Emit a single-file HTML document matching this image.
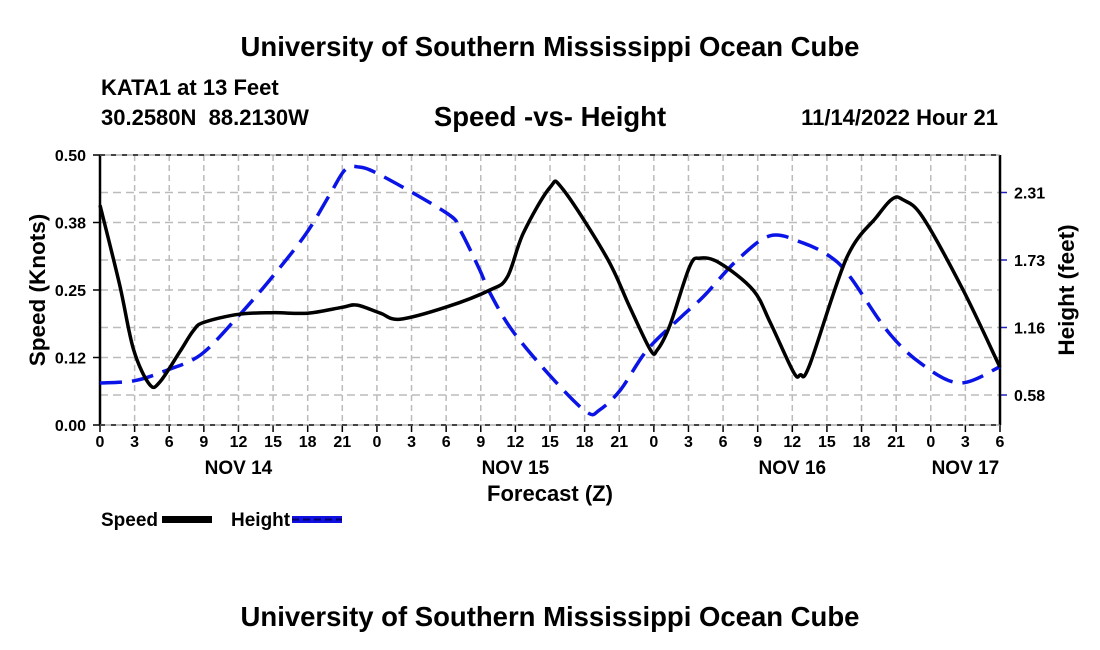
<!DOCTYPE html>
<html><head><meta charset="utf-8">
<style>
body{margin:0;background:#fff;}
svg{display:block;font-family:"Liberation Sans",Arial,sans-serif;font-weight:bold;}
</style></head>
<body>
<svg id="chart" width="1100" height="650" viewBox="0 0 1100 650">
<text x="550" y="56" font-size="27.5" text-anchor="middle">University of Southern Mississippi Ocean Cube</text>
<text x="101" y="95" font-size="22">KATA1 at 13 Feet</text>
<text x="101" y="125" font-size="22" xml:space="preserve">30.2580N  88.2130W</text>
<text x="550" y="126" font-size="27.5" text-anchor="middle">Speed -vs- Height</text>
<text x="998" y="125" font-size="22" text-anchor="end">11/14/2022 Hour 21</text>
<g id="grid"></g>
<g id="axes"></g>
<g id="series"></g>
<text transform="translate(45,290) rotate(-90)" font-size="22.5" text-anchor="middle">Speed (Knots)</text>
<text transform="translate(1074,290) rotate(-90)" font-size="22.5" text-anchor="middle">Height (feet)</text>
<text x="550" y="501" font-size="22" text-anchor="middle">Forecast (Z)</text>
<g>
<text x="101" y="526" font-size="19">Speed</text>
<rect x="162" y="516" width="50" height="7" fill="#000"/>
<text x="231" y="526" font-size="19">Height</text>
<rect x="292" y="516" width="50" height="7" fill="#1010e0"/>
<line x1="292" y1="519.5" x2="342" y2="519.5" stroke="#000070" stroke-width="2" stroke-dasharray="7,4"/>
</g>
<text x="550" y="626" font-size="27.5" text-anchor="middle">University of Southern Mississippi Ocean Cube</text>
</svg>
<script>
const xTickLabels=["0","3","6","9","12","15","18","21","0","3","6","9","12","15","18","21","0","3","6","9","12","15","18","21","0","3","6"];
const dayLabels=["NOV 14","NOV 15","NOV 16","NOV 17"];
const dayLabelHours=[12,36,60,75];
const leftTicks=[0,0.125,0.25,0.375,0.5];
const leftTickLabels=["0.00","0.12","0.25","0.38","0.50"];
const rightTicks=[0.5775,1.155,1.7325,2.31];
const rightTickLabels=["0.58","1.16","1.73","2.31"];
const speedHours=[0,1.7,2.9,4.3,5.2,6.9,8.1,9,12,15,18,21,22.3,24.3,26,30.1,33.8,35.3,36.7,39,40.1,43.9,45.9,47.7,48.3,49.4,51.1,52,53.7,56.6,58.1,60.1,60.7,61.5,64.7,67.3,68.7,69.6,71.3,74.8,78];
const speedValues=[0.407,0.26,0.14,0.075,0.08,0.135,0.175,0.19,0.205,0.208,0.207,0.218,0.222,0.207,0.196,0.219,0.25,0.274,0.356,0.44,0.437,0.311,0.219,0.139,0.139,0.185,0.293,0.309,0.3,0.25,0.189,0.098,0.093,0.111,0.309,0.385,0.419,0.417,0.385,0.25,0.107];
const heightHours=[0,3,5.8,8.7,11.7,14.7,17.8,19.9,21.2,22.3,24.3,30.1,31.2,32.9,33.8,35.8,39.3,42.2,43.3,45.1,47.4,50.3,52.3,55.2,58.1,60.9,63.3,65,68.2,71.1,74.5,78];
const heightValues=[0.68,0.70,0.79,0.92,1.22,1.56,1.95,2.29,2.50,2.53,2.46,2.13,1.99,1.65,1.45,1.12,0.71,0.43,0.45,0.62,0.96,1.24,1.42,1.73,1.94,1.88,1.76,1.59,1.13,0.85,0.68,0.82];

const NS="http://www.w3.org/2000/svg";
const X0=100,X1=1000,Y0=155,Y1=425,HMAX=78;
const xs=h=>X0+(h/HMAX)*(X1-X0);
const ySpeed=v=>Y1-(v/0.5)*(Y1-Y0);
const yHeight=h=>395-(h-0.5775)*67.5/0.5775;
function mk(tag,attrs,parent){const e=document.createElementNS(NS,tag);for(const k in attrs)e.setAttribute(k,attrs[k]);parent.appendChild(e);return e;}
const grid=document.getElementById('grid'),axes=document.getElementById('axes'),series=document.getElementById('series');

xTickLabels.forEach((lab,i)=>{
  const x=xs(i*3);
  if(i>0&&i<xTickLabels.length-1){const g=mk('line',{x1:x,y1:Y0,x2:x,y2:Y1,stroke:'#bbb','stroke-width':1.5,'stroke-dasharray':'6,4'},grid);
  
  }
  const t=mk('line',{x1:x,y1:Y1,x2:x,y2:Y1+7,stroke:'#000','stroke-width':1.5},axes);
  
  
  const tx=mk('text',{x:x,y:447,'font-size':16,'text-anchor':'middle'},axes);tx.textContent=lab;
  
  
});
dayLabels.forEach((lab,i)=>{
  const t=mk('text',{x:xs(dayLabelHours[i]),y:474,'font-size':19,'text-anchor':'middle'},axes);t.textContent=lab;
  
  
});
leftTicks.forEach((v,i)=>{
  const y=ySpeed(v);
  if(i>0&&i<leftTicks.length-1){const g=mk('line',{x1:X0,y1:y,x2:X1,y2:y,stroke:'#bbb','stroke-width':1.5,'stroke-dasharray':'8,5'},grid);
  
  }
  const t=mk('line',{x1:X0-7,y1:y,x2:X0,y2:y,stroke:'#000','stroke-width':1.5},axes);
  
  
  const tx=mk('text',{x:86,y:y+6,'font-size':16,'text-anchor':'end'},axes);tx.textContent=leftTickLabels[i];
  
  
});
rightTicks.forEach((v,i)=>{
  const y=yHeight(v);
  const g=mk('line',{x1:X0,y1:y,x2:X1,y2:y,stroke:'#bbb','stroke-width':1.5,'stroke-dasharray':'8,5'},grid);
  
  
  const t=mk('line',{x1:X1,y1:y,x2:X1+7,y2:y,stroke:'#2020c0','stroke-width':1.5},axes);
  
  
  const tx=mk('text',{x:1014,y:y+6,'font-size':16},axes);tx.textContent=rightTickLabels[i];
  
  
});
[[X0,Y0,X0,Y1],[X1,Y0,X1,Y1]].forEach(c=>{const l=mk('line',{x1:c[0],y1:c[1],x2:c[2],y2:c[3],stroke:'#000','stroke-width':2.5},axes);

});
[Y0,Y1].forEach(y=>{const l=mk('line',{x1:X0,y1:y,x2:X1,y2:y,stroke:'#000','stroke-width':2,'stroke-dasharray':'5,6'},axes);


const l2=mk('line',{x1:X0,y1:y,x2:X1,y2:y,stroke:'#888','stroke-width':1},axes);

});

function smoothPath(pts){
  let d=`M${pts[0][0]},${pts[0][1]}`;
  for(let i=0;i<pts.length-1;i++){
    const p0=pts[Math.max(0,i-1)],p1=pts[i],p2=pts[i+1],p3=pts[Math.min(pts.length-1,i+2)];
    const c1=[p1[0]+(p2[0]-p0[0])/6,p1[1]+(p2[1]-p0[1])/6];
    const c2=[p2[0]-(p3[0]-p1[0])/6,p2[1]-(p3[1]-p1[1])/6];
    d+=` C${c1[0].toFixed(1)},${c1[1].toFixed(1)} ${c2[0].toFixed(1)},${c2[1].toFixed(1)} ${p2[0].toFixed(1)},${p2[1].toFixed(1)}`;
  }
  return d;
}
const hp=mk('path',{d:smoothPath(heightHours.map((h,i)=>[xs(h),yHeight(heightValues[i])])),fill:'none',stroke:'#0a14e6','stroke-width':3.5,'stroke-dasharray':'22,10'},series);


const sp=mk('path',{d:smoothPath(speedHours.map((h,i)=>[xs(h),ySpeed(speedValues[i])])),fill:'none',stroke:'#000','stroke-width':3.5,'stroke-linejoin':'round'},series);


</script>
</body></html>
